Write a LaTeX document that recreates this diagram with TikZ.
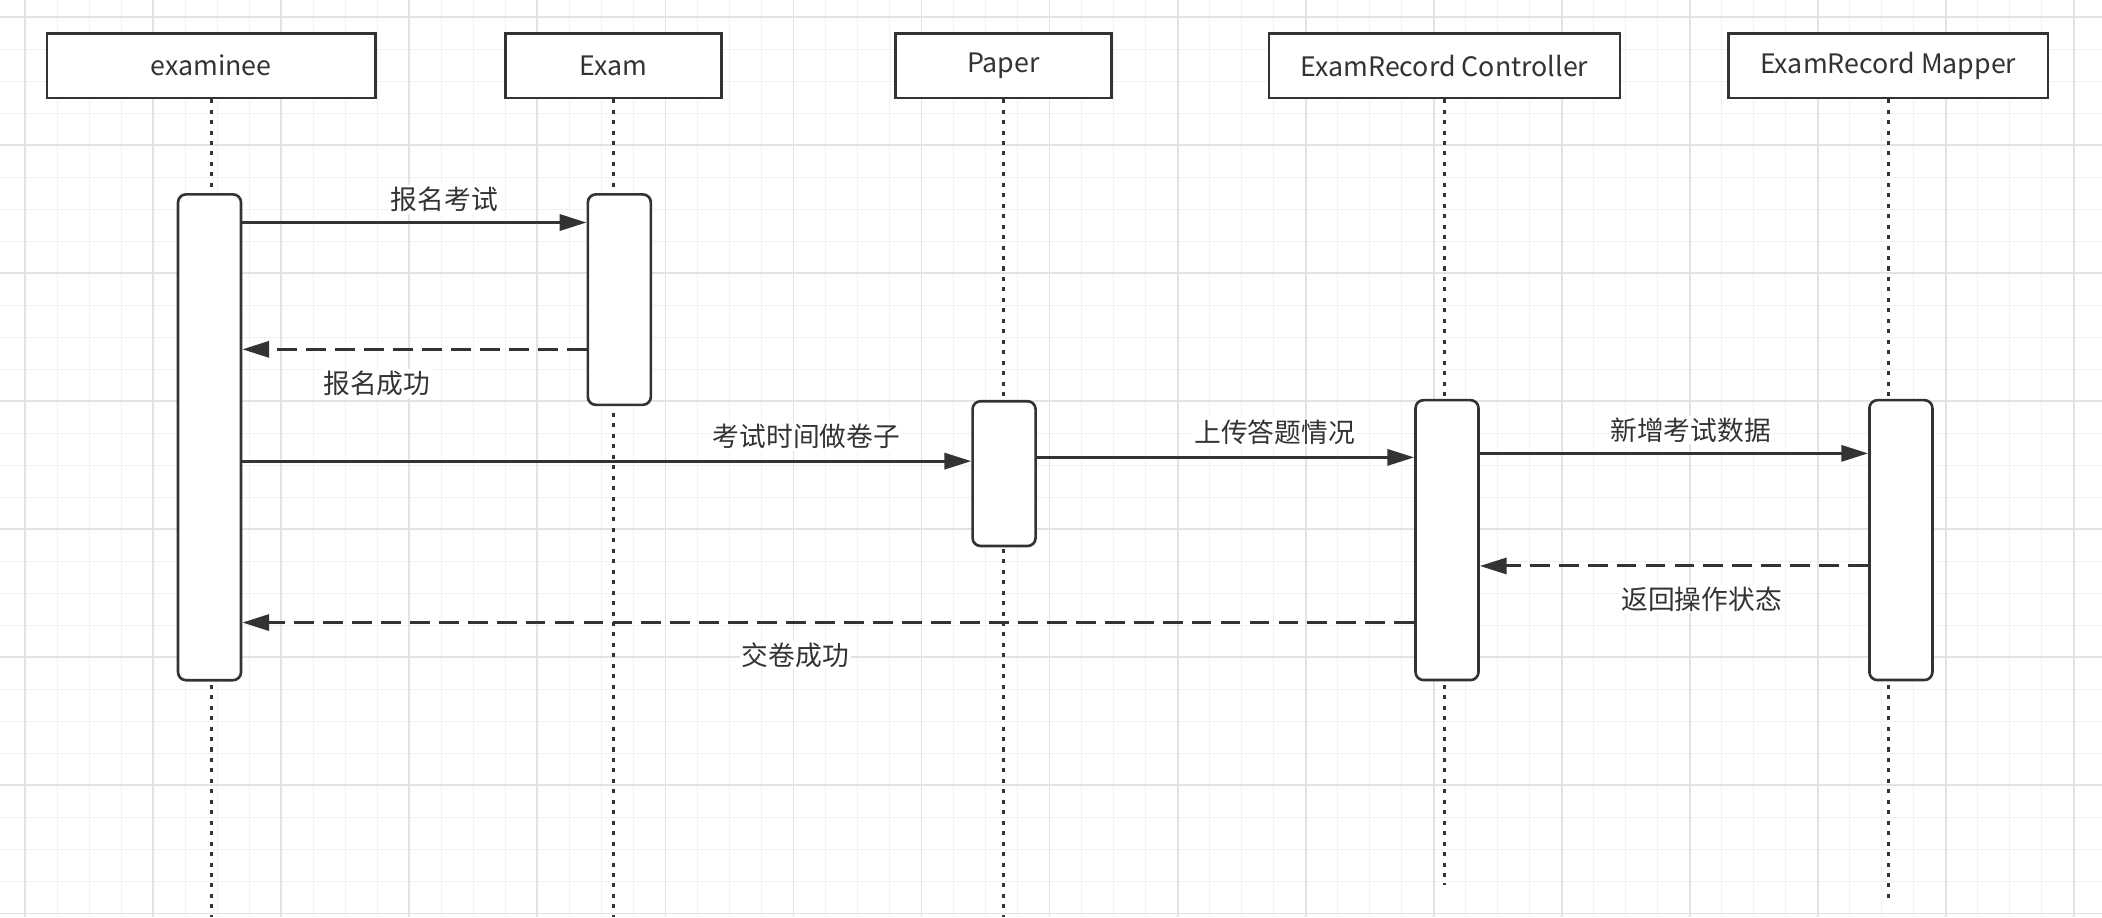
\documentclass[tikz,border=0pt]{standalone}
\usepackage{fontspec}
\setmainfont{Noto Sans CJK SC}
\usetikzlibrary{arrows.meta}
\definecolor{ink}{HTML}{333333}
\definecolor{gridminor}{HTML}{F1F1F1}
\definecolor{gridmajor}{HTML}{E3E3E3}
\tikzset{
  lifebox/.style={draw=ink, line width=1.4pt, fill=white, text=ink, minimum height=12mm, inner sep=0pt, font=\fontsize{14.2pt}{17pt}\selectfont},
  actbar/.style={draw=ink, line width=1.4pt, fill=white, rounded corners=1.5mm, minimum width=11.75mm, minimum height=#1, inner sep=0pt},
  lifeline/.style={draw=ink, line width=1.7pt, dash pattern=on 0.75mm off 1.2mm},
  call/.style={draw=ink, line width=1.6pt, -{Triangle[length=5mm,width=3mm]}},
  reply/.style={call, dash pattern=on 3.7mm off 1.7mm},
  msglabel/.style={fill=white, inner sep=1pt, text=ink, font=\fontsize{14.2pt}{17pt}\selectfont},
}
\begin{document}
\begin{tikzpicture}[x=0.25mm, y=-0.25mm]
  \fill[white] (0,0) rectangle (1568,684.1);
  \useasboundingbox (0,0) rectangle (1568,684.1);
  % background grid
  \foreach \i in {0,...,64} \draw[gridminor, line width=0.5pt] ({18.9+23.875*\i},0) -- ++(0,684.1);
  \foreach \i in {0,...,28} \draw[gridminor, line width=0.5pt] (0,{12.9+23.875*\i}) -- ++(1568,0);
  \foreach \i in {0,...,16} \draw[gridmajor, line width=1pt] ({18.9+95.5*\i},0) -- ++(0,684.1);
  \foreach \i in {0,...,7} \draw[gridmajor, line width=1pt] (0,{12.9+95.5*\i}) -- ++(1568,0);
  % participants
  \node[lifebox, minimum width=61.25mm] (examinee) at (157.5,49) {examinee};
  \node[lifebox, minimum width=40.25mm] (exam) at (457.5,49) {Exam};
  \node[lifebox, minimum width=40.25mm] (paper) at (748.5,49) {Paper};
  \node[lifebox, minimum width=65.4mm] (ctrl) at (1077.5,49) {ExamRecord Controller};
  \node[lifebox, minimum width=59.6mm] (mapper) at (1408.5,49) {ExamRecord Mapper};
  % lifelines
  \draw[lifeline] (examinee.south) -- (examinee.south |- 0,684.1);
  \draw[lifeline] (exam.south) -- (exam.south |- 0,684.1);
  \draw[lifeline] (paper.south) -- (paper.south |- 0,684.1);
  \draw[lifeline] (ctrl.south) -- (ctrl.south |- 0,660.3);
  \draw[lifeline] (mapper.south) -- (mapper.south |- 0,670.2);
  % activations
  \node[actbar=90.6mm] (act1) at (156.3,326.2) {};
  \node[actbar=39.25mm] (act2) at (462,223.5) {};
  \node[actbar=27mm] (act3) at (749,353.3) {};
  \node[actbar=52.2mm] (act4) at (1079.4,402.9) {};
  \node[actbar=52.2mm] (act5) at (1418,402.9) {};
  % messages
  \draw[call] (act1.east |- 0,166) -- node[msglabel, pos=.587, yshift=4.25mm] {报名考试} (act2.west |- 0,166);
  \draw[reply] (act2.west |- 0,260.6) -- node[msglabel, pos=.609, yshift=-6.35mm] {报名成功} (act1.east |- 0,260.6);
  \draw[call] (act1.east |- 0,344) -- node[msglabel, pos=.774, yshift=4.55mm] {考试时间做卷子} (act3.west |- 0,344);
  \draw[call] (act3.east |- 0,341.2) -- node[msglabel, pos=.63, yshift=4.7mm] {上传答题情况} (act4.west |- 0,341.2);
  \draw[call] (act4.east |- 0,338.2) -- node[msglabel, pos=.543, yshift=4.35mm] {新增考试数据} (act5.west |- 0,338.2);
  \draw[reply] (act5.west |- 0,422.2) -- node[msglabel, pos=.429, yshift=-6.2mm] {返回操作状态} (act4.east |- 0,422.2);
  \draw[reply] (act4.west |- 0,464.4) -- node[msglabel, pos=.528, yshift=-6.05mm] {交卷成功} (act1.east |- 0,464.4);
\end{tikzpicture}
\end{document}
